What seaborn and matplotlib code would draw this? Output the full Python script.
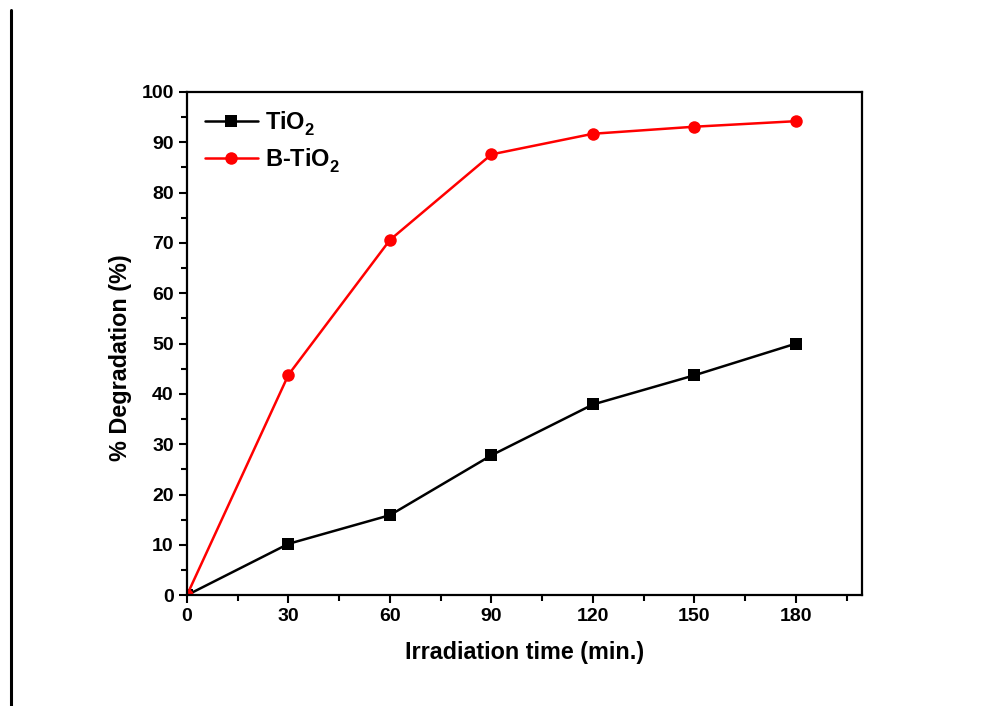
import numpy as np
import pandas as pd
import matplotlib
matplotlib.use("Agg")
import matplotlib.pyplot as plt
from matplotlib.lines import Line2D
from matplotlib.ticker import MultipleLocator
import seaborn as sns

time_min = [0, 30, 60, 90, 120, 150, 180]
tio2 = [0, 10.2, 15.9, 27.8, 37.9, 43.7, 50.0]
b_tio2 = [0, 43.8, 70.6, 87.6, 91.7, 93.1, 94.2]

df = pd.DataFrame({
    "time": time_min * 2,
    "deg": tio2 + b_tio2,
    "sample": ["TiO$_2$"] * len(tio2) + ["B-TiO$_2$"] * len(b_tio2),
})

sns.set_style("ticks")
plt.rcParams['font.family'] = ['Liberation Sans', 'DejaVu Sans']
plt.rcParams['font.weight'] = 'bold'
plt.rcParams['mathtext.fontset'] = 'custom'
plt.rcParams['mathtext.rm'] = 'Liberation Sans:bold'
plt.rcParams['mathtext.bf'] = 'Liberation Sans:bold'
plt.rcParams['mathtext.default'] = 'bf'
for k in ['text.color', 'axes.labelcolor', 'xtick.color', 'ytick.color', 'axes.edgecolor']:
    plt.rcParams[k] = 'black'

# push subscripts a bit lower, like the Origin export
try:
    from matplotlib import _mathtext
    _mathtext.FontConstantsBase.sub1 = 0.5
except Exception:
    pass

fig = plt.figure(figsize=(9.85, 7.06), dpi=100)
ax = fig.add_axes([0.1898, 0.157, 0.6853, 0.7127])

sns.lineplot(data=df, x="time", y="deg", hue="sample", style="sample",
             palette={"TiO$_2$": "black", "B-TiO$_2$": "#ff0000"},
             markers={"TiO$_2$": "s", "B-TiO$_2$": "o"}, dashes=False,
             markersize=9, linewidth=1.8, markeredgewidth=0, ax=ax)

ax.set_xlim(0, 199.5)
ax.set_ylim(0, 100)
ax.xaxis.set_major_locator(MultipleLocator(30))
ax.xaxis.set_minor_locator(MultipleLocator(15))
ax.yaxis.set_major_locator(MultipleLocator(10))
ax.yaxis.set_minor_locator(MultipleLocator(5))
ax.tick_params(which='major', direction='out', length=6, width=1.5, labelsize=14)
ax.tick_params(which='minor', direction='out', length=4, width=1.5)
for lab in ax.get_xticklabels() + ax.get_yticklabels():
    lab.set_fontweight('bold')
for s in ax.spines.values():
    s.set_linewidth(1.6)
    s.set_visible(True)

ax.set_xlabel("Irradiation time (min.)", fontsize=16.8, fontweight='bold', labelpad=11)
ax.set_ylabel("% Degradation (%)", fontsize=16.8, fontweight='bold')
ax.yaxis.set_label_coords(-0.082, 0.471)

leg = ax.legend(loc='upper left', frameon=False, fontsize=17, handlelength=2.25,
                handletextpad=0.3, borderaxespad=0.45, labelspacing=0.35,
                borderpad=0.3)
for t in leg.get_texts():
    t.set_fontweight('bold')

fig.add_artist(Line2D([0.0107, 0.0107], [0.0, 0.986], color='black', linewidth=2.2))

fig.savefig("out.png", dpi=100)
